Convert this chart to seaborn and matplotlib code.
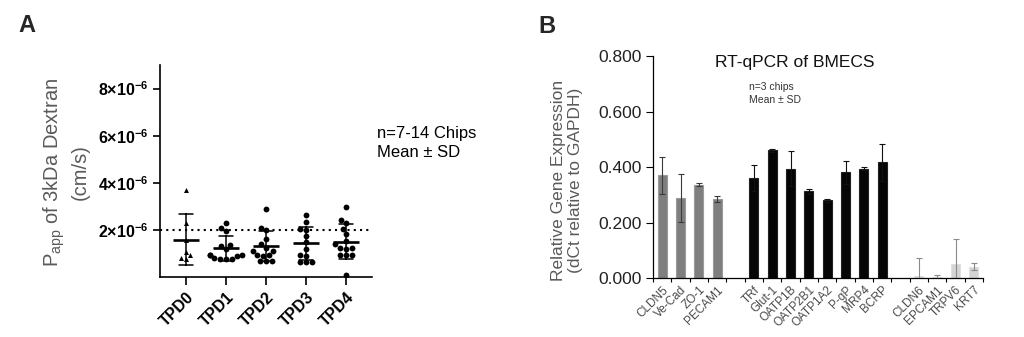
import numpy as np
import pandas as pd
import matplotlib
matplotlib.use("Agg")
import matplotlib.pyplot as plt
from matplotlib.ticker import FixedLocator, FuncFormatter
import seaborn as sns

sns.set_theme(style="ticks")
plt.rcParams["font.family"] = ["Liberation Sans", "DejaVu Sans"]
plt.rcParams["mathtext.fontset"] = "custom"
plt.rcParams["mathtext.rm"] = "Liberation Sans"
plt.rcParams["mathtext.bf"] = "Liberation Sans:bold"
plt.rcParams["mathtext.it"] = "Liberation Sans:italic"

# ---------------- Panel A data: permeability per time point (cm/s) ----------------
days = ["TPD0", "TPD1", "TPD2", "TPD3", "TPD4"]
tpd0 = [3.70, 2.28, 1.55, 1.05, 0.92, 0.78, 0.82]
tpd1 = [2.31, 2.07, 1.96, 1.35, 1.30, 1.18, 0.95, 0.93, 0.90, 0.92, 0.78, 0.76, 0.75, 0.80]
tpd2 = [2.90, 2.10, 1.98, 1.60, 1.40, 1.25, 1.12, 1.10, 0.95, 0.92, 0.90, 0.70, 0.68, 0.68]
tpd3 = [2.62, 2.32, 2.03, 2.00, 1.75, 1.50, 1.20, 0.92, 0.88, 0.65, 0.62, 0.64]
tpd4 = [2.97, 2.42, 2.28, 2.03, 1.82, 1.54, 1.38, 1.21, 1.20, 1.22, 0.93, 0.92, 0.95, 0.10]
papp_scale = 1e-6
threshold = 2e-6
a_ticks = [2e-6, 4e-6, 6e-6, 8e-6]

# ---------------- Panel B data: RT-qPCR relative expression ----------------
genes_junction = ["CLDN5", "Ve-Cad", "ZO-1", "PECAM1"]
mean_junction = [0.370, 0.288, 0.337, 0.285]
sd_junction = [0.066, 0.087, 0.005, 0.012]

genes_transport = ["TRf", "Glut-1", "OATP1B", "OATP2B1", "OATP1A2", "P-gP", "MRP4", "BCRP"]
mean_transport = [0.360, 0.460, 0.395, 0.313, 0.280, 0.381, 0.395, 0.417]
sd_transport = [0.046, 0.007, 0.064, 0.008, 0.006, 0.042, 0.004, 0.067]

genes_other = ["CLDN6", "EPCAM1", "TRPV6", "KRT7"]
mean_other = [0.008, 0.005, 0.050, 0.042]
sd_other = [0.064, 0.008, 0.093, 0.012]

b_ticks = [0.0, 0.2, 0.4, 0.6, 0.8]

# ---------------- figure ----------------
W, H = 1024, 337
fig = plt.figure(figsize=(W / 100, H / 100), dpi=100)


def fx(px):
    return px / W


def fy(py):
    return 1 - py / H


# ---- Panel A ----
axA = fig.add_axes([fx(160), fy(277), fx(372 - 160), (277 - 65) / H])
rows = []
for d, vals in zip(days, [tpd0, tpd1, tpd2, tpd3, tpd4]):
    for v in vals:
        rows.append({"day": d, "papp": v * papp_scale})
dfA = pd.DataFrame(rows)

sns.swarmplot(data=dfA[dfA.day == "TPD0"], x="day", y="papp", order=days,
              marker="^", color="black", size=3.6, ax=axA)
sns.swarmplot(data=dfA[dfA.day != "TPD0"], x="day", y="papp", order=days,
              marker="o", color="black", size=4.2, ax=axA)
sns.pointplot(data=dfA, x="day", y="papp", order=days, errorbar="sd",
              capsize=0.33, color="black", marker="_", markersize=19,
              markeredgewidth=1.9, linestyle="none",
              err_kws={"linewidth": 1.1}, ax=axA)
axA.axhline(threshold, color="black", linestyle=(0, (1, 2)), linewidth=1.5, zorder=0)

axA.set_xlim(-0.65, 4.65)
axA.set_ylim(0, 9e-6)
axA.yaxis.set_major_locator(FixedLocator(a_ticks))
axA.yaxis.set_major_formatter(FuncFormatter(
    lambda v, p: r"$\mathbf{%d{\times}10^{-6}}$" % round(v / 1e-6)))
for lab in axA.get_yticklabels():
    lab.set_fontsize(11.5)
axA.set_xlabel("")
axA.set_ylabel("")
axA.set_xticks(range(len(days)))
axA.set_xticklabels(days, rotation=45, ha="right", rotation_mode="anchor",
                    fontsize=11.5, fontweight="bold")
axA.tick_params(axis="both", direction="out", length=5, width=1.2, color="black",
                labelcolor="black", pad=3)
axA.tick_params(axis="x", length=6)
for s in ["left", "bottom"]:
    axA.spines[s].set_linewidth(1.2)
    axA.spines[s].set_color("black")
sns.despine(ax=axA)

fig.text(fx(66), fy(172), "P$_{\\mathregular{app}}$ of 3kDa Dextran\n(cm/s)",
         rotation=90, ha="center", va="center", multialignment="center",
         fontsize=14.5, color="#5a5a5a", linespacing=1.25)
fig.text(fx(377), fy(143), "n=7-14 Chips\nMean \u00b1 SD", ha="left", va="center",
         fontsize=12, color="black", linespacing=1.3)
fig.text(fx(18), fy(14), "A", ha="left", va="top", fontsize=17, fontweight="bold")

# ---- Panel B ----
axB = fig.add_axes([fx(653), fy(278.3), fx(983 - 653), (278.3 - 56) / H])
gap1, gap2 = " ", "  "
order_b = genes_junction + [gap1] + genes_transport + [gap2] + genes_other
dfB = pd.DataFrame({
    "gene": genes_junction + genes_transport + genes_other,
    "expr": mean_junction + mean_transport + mean_other,
    "sd": sd_junction + sd_transport + sd_other,
    "group": ["junction"] * len(genes_junction) + ["transport"] * len(genes_transport)
             + ["other"] * len(genes_other),
})
bar_colors = {"junction": "#7f7f7f", "transport": "#050505", "other": "#d4d4d4"}
err_colors = {"junction": "#3a3a3a", "transport": "#111111", "other": "#8a8a8a"}
edge_colors = {"junction": "#9a9a9a", "transport": "#222222", "other": "#e0e0e0"}

sns.barplot(data=dfB, x="gene", y="expr", order=order_b, hue="group",
            palette=bar_colors, dodge=False, width=0.5, errorbar=None,
            legend=False, ax=axB, linewidth=0.8)
for patch in axB.patches:
    fc = patch.get_facecolor()
    for g, c in bar_colors.items():
        if np.allclose(fc[:3], matplotlib.colors.to_rgb(c)):
            patch.set_edgecolor(edge_colors[g])

for g in ["junction", "transport", "other"]:
    sub = dfB[dfB.group == g]
    xs = [order_b.index(n) for n in sub.gene]
    axB.errorbar(xs, sub.expr, yerr=sub.sd, fmt="none", ecolor=err_colors[g],
                 elinewidth=0.8, capsize=2, capthick=0.8, zorder=5)

axB.set_xlim(-0.5, len(order_b) - 0.5)
axB.set_ylim(0, 0.8)
axB.set_yticks(b_ticks)
axB.yaxis.set_major_formatter(FuncFormatter(lambda v, p: "%.3f" % v))
axB.set_xlabel("")
axB.set_ylabel("")
axB.set_xticks(range(len(order_b)))
axB.set_xticklabels(order_b, rotation=45, ha="right", rotation_mode="anchor",
                    fontsize=8.5, color="#4a4a4a")
axB.tick_params(axis="x", length=0, pad=4)
axB.set_xticks(np.arange(-0.5, len(order_b)), minor=True)
axB.tick_params(axis="x", which="minor", length=3, width=0.8, color="black")
axB.tick_params(axis="y", length=5, width=0.8, color="black", labelsize=12.5,
                labelcolor="#222222", pad=3)
for s in ["left", "bottom"]:
    axB.spines[s].set_linewidth(0.9)
    axB.spines[s].set_color("black")
sns.despine(ax=axB)

fig.text(fx(567), fy(180), "Relative Gene Expression\n(dCt relative to GAPDH)",
         rotation=90, ha="center", va="center", multialignment="center",
         fontsize=12.5, color="#5a5a5a", linespacing=1.15)
fig.text(fx(795), fy(62), "RT-qPCR of BMECS", ha="center", va="center",
         fontsize=12.5, color="#111111")
fig.text(fx(749), fy(93.5), "n=3 chips\nMean \u00b1 SD", ha="left", va="center",
         fontsize=7.5, color="#333333", linespacing=1.4)
fig.text(fx(538), fy(15), "B", ha="left", va="top", fontsize=17, fontweight="bold")

fig.savefig("out.png", dpi=100)
